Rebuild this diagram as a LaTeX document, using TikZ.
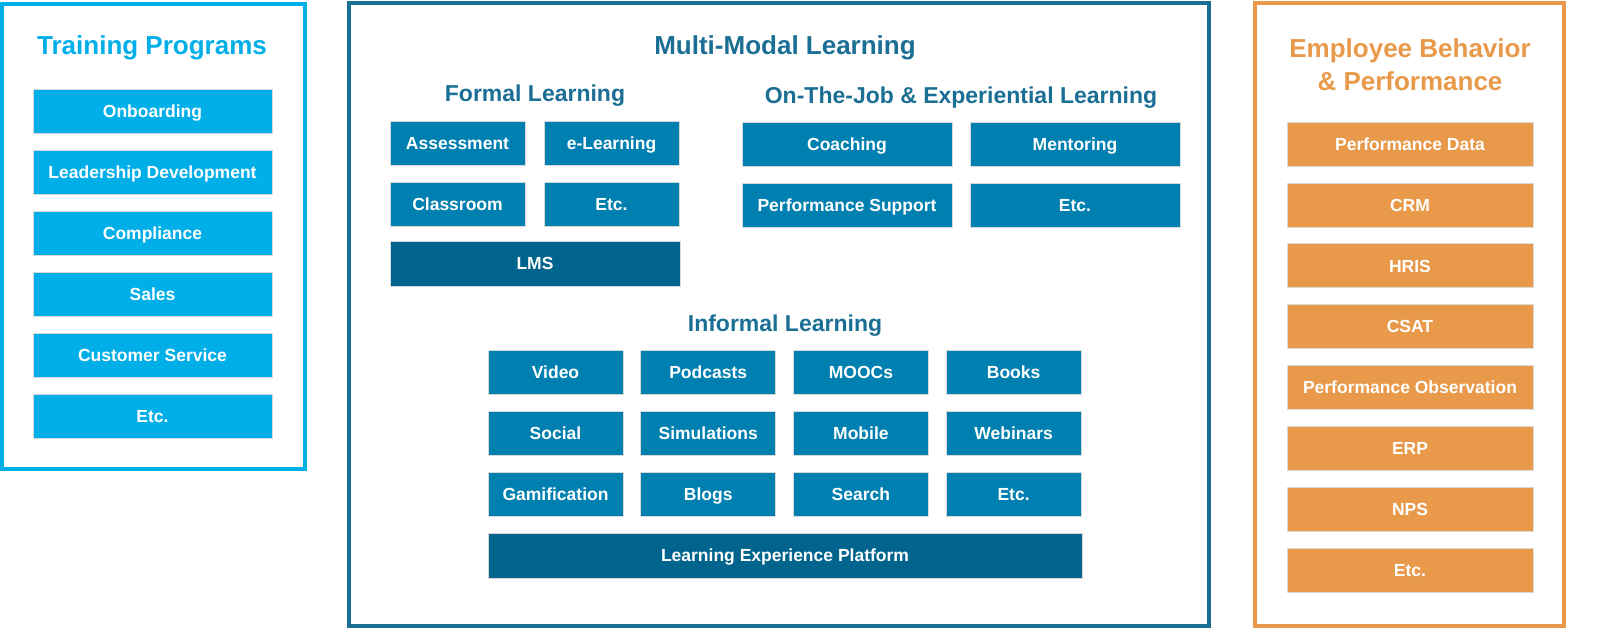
\documentclass[tikz,border=0pt]{standalone}
\usepackage{fontspec}
\setmainfont{Liberation Sans}
\definecolor{cyanB}{RGB}{0,174,232}
\definecolor{blueB}{RGB}{0,128,176}
\definecolor{darkB}{RGB}{0,100,140}
\definecolor{frameB}{RGB}{27,110,148}
\definecolor{orangeB}{RGB}{232,153,74}
\begin{document}
\begin{tikzpicture}[x=1pt,y=-1pt,
  bx/.style={draw=white!85!black,line width=0.8pt,text=white,font=\bfseries\fontsize{17.5}{20}\selectfont,inner sep=0pt,text height=12.5pt,text depth=0pt},
  cy/.style={bx,fill=cyanB,minimum width=239,minimum height=44},
  bl/.style={bx,fill=blueB,minimum width=135,minimum height=44},
  bw/.style={bx,fill=blueB,minimum width=210,minimum height=44},
  dk/.style={bx,fill=darkB,minimum height=45},
  or/.style={bx,fill=orangeB,minimum width=246,minimum height=44},
  ttl/.style={font=\bfseries\fontsize{26}{33}\selectfont,align=center},
  sub/.style={font=\bfseries\fontsize{23}{27}\selectfont,text=frameB}]
\useasboundingbox (0,0) rectangle (1600,642);
% frames
\draw[cyanB,line width=4pt] (2,4) rectangle (305,469);
\draw[frameB,line width=4pt] (349,3) rectangle (1209,626);
\draw[orangeB,line width=4pt] (1255,3) rectangle (1564,626);
% left
\node[ttl,text=cyanB] (tp) at (152,48) {Training Programs};
\foreach \t [count=\i] in {Onboarding,Leadership Development,Compliance,Sales,Customer Service,Etc.}
  \node[cy] (l\i) at (152.5,{111+61*(\i-1)}) {\t};
% middle
\node[ttl,text=frameB] (mm) at (785,48) {Multi-Modal Learning};
\node[sub] (fl) at (535,96) {Formal Learning};
\node[bl] (as) at (457.5,143) {Assessment};
\node[bl] (el) at (611.5,143) {e-Learning};
\node[bl] (cl) at (457.5,204) {Classroom};
\node[bl] (fe) at (611.5,204) {Etc.};
\node[dk,minimum width=290] (lms) at (535,263.5) {LMS};
\node[sub] (oj) at (961,98) {On-The-Job \& Experiential Learning};
\node[bw] (co) at (847,144) {Coaching};
\node[bw] (me) at (1075,144) {Mentoring};
\node[bw] (ps) at (847,205) {Performance Support};
\node[bw] (oe) at (1075,205) {Etc.};
\node[sub] (il) at (785,326) {Informal Learning};
\foreach \t [count=\i] in {Video,Podcasts,MOOCs,Books}
  \node[bl] (a\i) at ({555.5+152.7*(\i-1)},372) {\t};
\foreach \t [count=\i] in {Social,Simulations,Mobile,Webinars}
  \node[bl] (b\i) at ({555.5+152.7*(\i-1)},433) {\t};
\foreach \t [count=\i] in {Gamification,Blogs,Search,Etc.}
  \node[bl] (c\i) at ({555.5+152.7*(\i-1)},494) {\t};
\node[dk,minimum width=594] (lep) at (785,555.5) {Learning Experience Platform};
% right
\node[ttl,text=orangeB] (eb) at (1410,65) {Employee Behavior\\\& Performance};
\foreach \t [count=\i] in {Performance Data,CRM,HRIS,CSAT,Performance Observation,ERP,NPS,Etc.}
  \node[or] (r\i) at (1410,{144+60.9*(\i-1)}) {\t};
\end{tikzpicture}
\end{document}
